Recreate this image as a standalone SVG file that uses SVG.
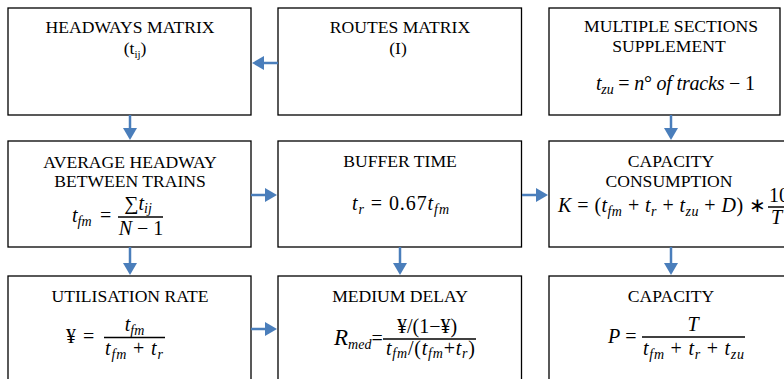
<svg xmlns="http://www.w3.org/2000/svg" width="784" height="379" viewBox="0 0 784 379">
<style>
.box{fill:#fff;stroke:#000;stroke-width:1.3}
.t{font-family:"Liberation Serif","Times New Roman",serif;font-size:17.6px;text-anchor:middle;fill:#000}
.m{font-family:"Liberation Serif","Times New Roman",serif;font-size:20px;fill:#000}
.i{font-style:italic}
.s{font-size:14px;font-style:italic}
.fb{stroke:#000;stroke-width:1.5}
.c{stroke:#4a7ebb;stroke-width:2.5;fill:none;marker-end:url(#ah)}
</style>
<defs>
<marker id="ah" markerUnits="userSpaceOnUse" markerWidth="12" markerHeight="14" refX="6" refY="7" orient="auto" overflow="visible"><path d="M0,0 L12,7 L0,14 z" fill="#4a7ebb"/></marker>
</defs>
<rect width="784" height="379" fill="#fff"/>

<g id="headways">
<rect class="box" x="8" y="8" width="243" height="107"/>
<text class="t" x="130" y="33">HEADWAYS MATRIX</text>
<text class="t" x="135" y="54" font-size="16">(t<tspan font-size="11" dy="4">ij</tspan><tspan dy="-4">)</tspan></text>
</g>

<g id="routes">
<rect class="box" x="278" y="8" width="243.5" height="107"/>
<text class="t" x="400" y="33">ROUTES MATRIX</text>
<text class="t" x="398" y="54">(I)</text>
</g>

<g id="supplement">
<rect class="box" x="549" y="8" width="231" height="107"/>
<text class="t" x="671" y="32">MULTIPLE SECTIONS</text>
<text class="t" x="669" y="52">SUPPLEMENT</text>
<text class="m" x="596" y="90" textLength="159" lengthAdjust="spacing"><tspan class="i">t</tspan><tspan class="s" dy="4">zu</tspan><tspan dy="-4"> = </tspan><tspan class="i">n</tspan>° <tspan class="i">of tracks</tspan> − 1</text>
</g>

<g id="average">
<rect class="box" x="8" y="141" width="243" height="106"/>
<text class="t" x="130" y="168">AVERAGE HEADWAY</text>
<text class="t" x="130" y="187">BETWEEN TRAINS</text>
<text class="m i" x="72" y="222">t<tspan class="s" dy="4">fm</tspan></text>
<text class="m" x="100" y="222">=</text>
<line class="fb" x1="118" y1="217" x2="163" y2="217"/>
<text class="m" x="138" y="210" text-anchor="middle">∑<tspan class="i">t</tspan><tspan class="s" dy="3">ij</tspan></text>
<text class="m" x="141" y="235" text-anchor="middle"><tspan class="i">N</tspan> − 1</text>
</g>

<g id="buffer">
<rect class="box" x="278" y="141" width="243.5" height="106"/>
<text class="t" x="400" y="167">BUFFER TIME</text>
<text class="m" x="352" y="210" textLength="97" lengthAdjust="spacing"><tspan class="i">t</tspan><tspan class="s" dy="4">r</tspan><tspan dy="-4"> =</tspan> 0.67<tspan class="i">t</tspan><tspan class="s" dy="4">fm</tspan></text>
</g>

<g id="consumption">
<rect class="box" x="549" y="141" width="250" height="106"/>
<text class="t" x="671" y="167">CAPACITY</text>
<text class="t" x="669" y="187">CONSUMPTION</text>
<text class="m" x="558" y="212" textLength="208" lengthAdjust="spacing"><tspan class="i">K</tspan> = (<tspan class="i">t</tspan><tspan class="s" dy="4">fm</tspan><tspan dy="-4"> + </tspan><tspan class="i">t</tspan><tspan class="s" dy="4">r</tspan><tspan dy="-4"> + </tspan><tspan class="i">t</tspan><tspan class="s" dy="4">zu</tspan><tspan dy="-4"> + </tspan><tspan class="i">D</tspan>) ∗</text>
<line class="fb" x1="768" y1="207" x2="800" y2="207"/>
<text class="m" x="769" y="202">100</text>
<text class="m i" x="771" y="224">T</text>
</g>

<g id="utilisation">
<rect class="box" x="8" y="276" width="243" height="120"/>
<text class="t" x="130" y="302">UTILISATION RATE</text>
<text class="m" x="66" y="343">¥ <tspan dx="2">=</tspan></text>
<line class="fb" x1="104" y1="337.5" x2="165" y2="337.5"/>
<text class="m" x="134.5" y="331" text-anchor="middle"><tspan class="i">t</tspan><tspan class="s" dy="4">fm</tspan></text>
<text class="m" x="105" y="355" textLength="58" lengthAdjust="spacing"><tspan class="i">t</tspan><tspan class="s" dy="4">fm</tspan><tspan dy="-4"> + </tspan><tspan class="i">t</tspan><tspan class="s" dy="4">r</tspan></text>
</g>

<g id="delay">
<rect class="box" x="278" y="276" width="243.5" height="120"/>
<text class="t" x="400" y="302">MEDIUM DELAY</text>
<text class="m" x="334" y="345"><tspan class="i" font-size="23">R</tspan><tspan class="s" font-size="15" dy="4">med</tspan><tspan dy="-4">=</tspan></text>
<line class="fb" x1="383" y1="339" x2="476" y2="339"/>
<text class="m" x="427" y="333" font-size="13" text-anchor="middle">¥/(1−¥)</text>
<text class="m" x="386" y="355" font-size="13" textLength="89" lengthAdjust="spacing"><tspan class="i">t</tspan><tspan class="s" font-size="10" dy="3">fm</tspan><tspan dy="-3">/(</tspan><tspan class="i">t</tspan><tspan class="s" font-size="10" dy="3">fm</tspan><tspan dy="-3">+</tspan><tspan class="i">t</tspan><tspan class="s" font-size="10" dy="3">r</tspan><tspan dy="-3">)</tspan></text>
</g>

<g id="capacity">
<rect class="box" x="549" y="276" width="250" height="120"/>
<text class="t" x="671" y="302">CAPACITY</text>
<text class="m" x="608" y="343"><tspan class="i">P</tspan> =</text>
<line class="fb" x1="642" y1="337" x2="745" y2="337"/>
<text class="m i" x="693" y="331" text-anchor="middle">T</text>
<text class="m" x="643" y="355" textLength="101" lengthAdjust="spacing"><tspan class="i">t</tspan><tspan class="s" dy="4">fm</tspan><tspan dy="-4"> + </tspan><tspan class="i">t</tspan><tspan class="s" dy="4">r</tspan><tspan dy="-4"> + </tspan><tspan class="i">t</tspan><tspan class="s" dy="4">zu</tspan></text>
</g>

<g id="connectors">
<line class="c" x1="278" y1="63" x2="258" y2="63"/>
<line class="c" x1="130" y1="115" x2="130" y2="134"/>
<line class="c" x1="671" y1="115" x2="671" y2="134"/>
<line class="c" x1="251" y1="195" x2="271" y2="195"/>
<line class="c" x1="522" y1="195" x2="542" y2="195"/>
<line class="c" x1="130" y1="247" x2="130" y2="269"/>
<line class="c" x1="400" y1="247" x2="400" y2="269"/>
<line class="c" x1="671" y1="247" x2="671" y2="269"/>
<line class="c" x1="251" y1="329" x2="271" y2="329"/>
</g>
</svg>
